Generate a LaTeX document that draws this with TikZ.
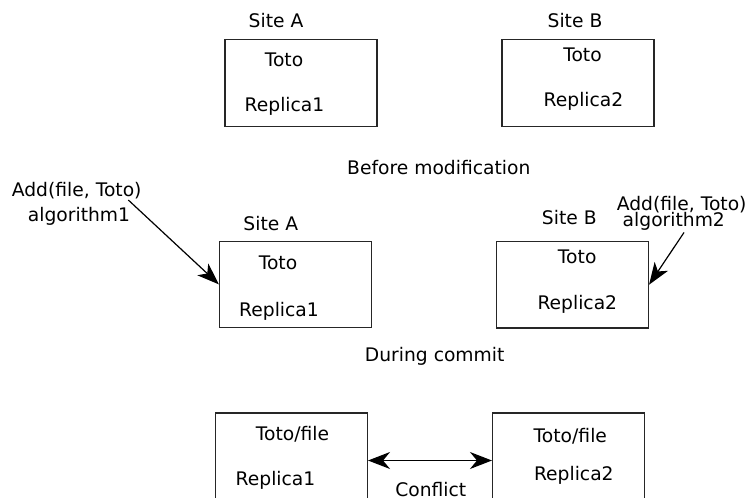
\documentclass[tikz,border=0pt]{standalone}
\usepackage{fontspec}
\setmainfont{DejaVu Sans}
\usetikzlibrary{arrows.meta}
\begin{document}
\begin{tikzpicture}[x=1pt,y=-1pt,
  txt/.style={anchor=base,inner sep=0pt,font=\fontsize{18.7}{22}\selectfont},
  site/.style={draw=black!85,line width=1.1pt,minimum width=#1,inner sep=0pt},
  arr/.style={line width=1.2pt,-{Stealth[length=22pt,width=16pt,inset=6pt]}},
  darr/.style={line width=1.2pt,{Stealth[length=22pt,width=17pt,inset=7pt]}-{Stealth[length=22pt,width=17pt,inset=7pt]}}]
\useasboundingbox (0,0) rectangle (747,498);
\clip (0,0) rectangle (747,498);
% Before modification
\node[site=152pt,minimum height=86.6pt] (bA1) at (301,83) {};
\node[site=152pt,minimum height=86.6pt] (bB1) at (578,83) {};
\node[txt] (sA1) at (276,27.7) {Site A};
\node[txt] (tA1) at (284,66.7) {Toto};
\node[txt] (rA1) at (284.5,111.7) {Replica1};
\node[txt] (sB1) at (575,27.7) {Site B};
\node[txt] (tB1) at (582.5,61.7) {Toto};
\node[txt] (rB1) at (583.5,106.7) {Replica2};
\node[txt] (before) at (438.8,174) {Before modification};
% During commit
\node[site=152pt,minimum height=86.6pt] (bA2) at (295.5,284.4) {};
\node[site=152pt,minimum height=86.6pt] (bB2) at (572.5,284.7) {};
\node[txt] (sA2) at (270.8,230) {Site A};
\node[txt] (tA2) at (278,269.3) {Toto};
\node[txt] (rA2) at (279,316.7) {Replica1};
\node[txt] (sB2) at (569.3,224.3) {Site B};
\node[txt] (tB2) at (577.2,263.3) {Toto};
\node[txt] (rB2) at (577.3,309.3) {Replica2};
\node[txt] (addA) at (76.7,196.7) {Add(file, Toto)};
\node[txt] (algA) at (79,221.7) {algorithm1};
\node[txt] (addB) at (681.7,210) {Add(file, Toto)};
\node[txt] (algB) at (673.8,226.7) {algorithm2};
\coordinate (stA) at (128.3,200);
\coordinate (stB) at (684,232.5);
\draw[arr] (stA) -- (bA2.west);
\draw[arr] (stB) -- (bB2.east);
\node[txt] (during) at (434.7,361.7) {During commit};
% After
\node[site=152pt,minimum height=95pt] (bA3) at (291.5,460.5) {};
\node[site=152pt,minimum height=95pt] (bB3) at (568.5,460.5) {};
\node[txt] (tA3) at (292.5,440.7) {Toto/file};
\node[txt] (rA3) at (275.5,485) {Replica1};
\node[txt] (tB3) at (570.3,442.3) {Toto/file};
\node[txt] (rB3) at (573.8,480) {Replica2};
\node[txt] (conf) at (430.8,496.7) {Conflict};
\draw[darr] (bA3.east) -- (bB3.west);
\end{tikzpicture}
\end{document}
